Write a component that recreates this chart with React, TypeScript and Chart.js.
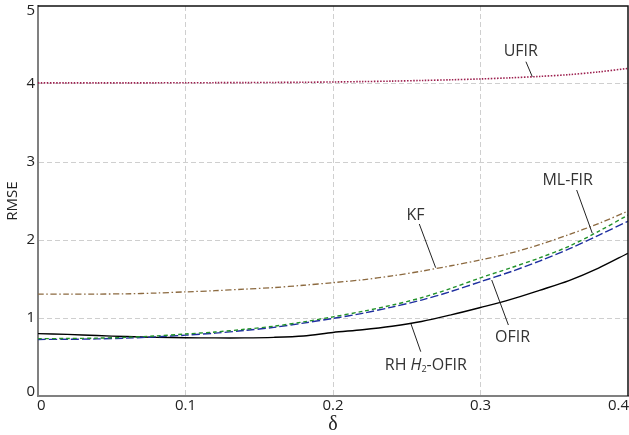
import { useEffect, useRef } from "react";
import { Chart, registerables } from "chart.js";

Chart.register(...registerables);

// ---- data ----
const deltas = [0, 0.02, 0.04, 0.06, 0.08, 0.1, 0.12, 0.14, 0.16, 0.18, 0.2, 0.22, 0.24, 0.26, 0.28, 0.3, 0.32, 0.34, 0.36, 0.38, 0.4];
const ufir = [4.015, 4.015, 4.015, 4.015, 4.015, 4.016, 4.017, 4.018, 4.02, 4.022, 4.026, 4.031, 4.037, 4.045, 4.054, 4.065, 4.079, 4.097, 4.12, 4.155, 4.2];
const kf = [1.305, 1.305, 1.307, 1.31, 1.32, 1.335, 1.35, 1.37, 1.39, 1.42, 1.453, 1.49, 1.54, 1.6, 1.67, 1.745, 1.83, 1.94, 2.07, 2.21, 2.37];
const mlfir = [0.735, 0.737, 0.742, 0.752, 0.77, 0.795, 0.82, 0.855, 0.895, 0.95, 1.015, 1.085, 1.165, 1.26, 1.38, 1.515, 1.64, 1.77, 1.92, 2.11, 2.32];
const ofir = [0.725, 0.727, 0.732, 0.742, 0.758, 0.78, 0.806, 0.84, 0.88, 0.935, 0.995, 1.06, 1.14, 1.23, 1.34, 1.465, 1.59, 1.73, 1.885, 2.06, 2.24];
const rhOfir = [0.8, 0.79, 0.775, 0.762, 0.752, 0.747, 0.745, 0.745, 0.752, 0.77, 0.815, 0.85, 0.895, 0.955, 1.04, 1.135, 1.235, 1.355, 1.48, 1.64, 1.83];

const xTicks = [0, 0.1, 0.2, 0.3, 0.4];
const yTicks = [0, 1, 2, 3, 4, 5];

// annotation labels (text, label centre, leader line start/end) in data units
const annotations = [
  { text: "UFIR", at: [0.3273, 4.421], from: [0.3308, 4.286], to: [0.3351, 4.094] },
  { text: "KF", at: [0.2559, 2.31], from: [0.2585, 2.205], to: [0.2696, 1.645] },
  { text: "ML-FIR", at: [0.3591, 2.769], from: [0.3652, 2.641], to: [0.3758, 2.086] },
  { text: "OFIR", at: [0.3217, 0.754], from: [0.3189, 0.91], to: [0.3076, 1.487] },
  { text: "RH", at: [0.2629, 0.387], from: [0.2595, 0.568], to: [0.2529, 0.923] },
];

const FONT = '"Open Sans", "DejaVu Sans", sans-serif';

function pts(vals: number[]) {
  return vals.map((v, i) => ({ x: deltas[i], y: v }));
}

const overlayPlugin = {
  id: "overlay",
  afterDraw(chart: any) {
    const { ctx, chartArea, scales } = chart;
    const xs = scales.x;
    const ys = scales.y;
    ctx.save();
    // top & right frame
    ctx.strokeStyle = "#111";
    ctx.lineWidth = 1.5;
    ctx.beginPath();
    ctx.moveTo(chartArea.left, chartArea.top);
    ctx.lineTo(chartArea.right, chartArea.top);
    ctx.lineTo(chartArea.right, chartArea.bottom);
    ctx.stroke();

    // tick labels
    ctx.fillStyle = "#222";
    ctx.font = `15px ${FONT}`;
    ctx.textAlign = "right";
    ctx.textBaseline = "middle";
    yTicks.forEach((v) => {
      let py = ys.getPixelForValue(v);
      py = Math.min(Math.max(py, chartArea.top + 5), chartArea.bottom - 4);
      ctx.fillText(String(v), chartArea.left - 3, py);
    });
    ctx.textAlign = "center";
    ctx.textBaseline = "alphabetic";
    xTicks.forEach((v) => {
      const label = v === 0 ? "0" : v.toFixed(1);
      const w = ctx.measureText(label).width;
      let px = xs.getPixelForValue(v);
      px = Math.min(Math.max(px, chartArea.left + w / 2 - 1), chart.width - w / 2);
      ctx.fillText(label, px, chartArea.bottom + 14);
    });

    // annotations
    ctx.strokeStyle = "#222";
    ctx.lineWidth = 1;
    ctx.fillStyle = "#333";
    ctx.textBaseline = "middle";
    annotations.forEach((a) => {
      ctx.beginPath();
      ctx.moveTo(xs.getPixelForValue(a.from[0]), ys.getPixelForValue(a.from[1]));
      ctx.lineTo(xs.getPixelForValue(a.to[0]), ys.getPixelForValue(a.to[1]));
      ctx.stroke();
      const cx = xs.getPixelForValue(a.at[0]);
      const cy = ys.getPixelForValue(a.at[1]);
      if (a.text === "RH") {
        const parts = [
          { t: "RH ", f: `16px ${FONT}`, dy: 0 },
          { t: "H", f: `italic 16px ${FONT}`, dy: 0 },
          { t: "2", f: `9px ${FONT}`, dy: 4 },
          { t: "-OFIR", f: `16px ${FONT}`, dy: 0 },
        ];
        let total = 0;
        parts.forEach((p) => {
          ctx.font = p.f;
          total += ctx.measureText(p.t).width;
        });
        let x0 = cx - total / 2;
        ctx.textAlign = "left";
        parts.forEach((p) => {
          ctx.font = p.f;
          ctx.fillText(p.t, x0, cy + p.dy);
          x0 += ctx.measureText(p.t).width;
        });
      } else {
        ctx.font = `16px ${FONT}`;
        ctx.textAlign = "center";
        ctx.fillText(a.text, cx, cy);
      }
    });
    ctx.restore();
  },
};

export default function App() {
  const ref = useRef<HTMLCanvasElement | null>(null);
  useEffect(() => {
    document.body.style.margin = "0";
    if (!ref.current) return;
    const gridColor = (edgeVals: number[]) => (c: any) =>
      c.tick && edgeVals.some((e) => Math.abs(c.tick.value - e) < 1e-9) ? "rgba(0,0,0,0)" : "#cfcfcf";
    const chart = new Chart(ref.current, {
      type: "line",
      data: {
        datasets: [
          { label: "UFIR", data: pts(ufir), borderColor: "#9c1f4e", borderWidth: 1.6, borderDash: [1.5, 1.5] },
          { label: "KF", data: pts(kf), borderColor: "#8c6a40", borderWidth: 1.3, borderDash: [6, 2.5, 1.5, 2.5] },
          { label: "ML-FIR", data: pts(mlfir), borderColor: "#22922a", borderWidth: 1.4, borderDash: [4, 3] },
          { label: "OFIR", data: pts(ofir), borderColor: "#1f2fa0", borderWidth: 1.4, borderDash: [8, 3] },
          { label: "RH H2-OFIR", data: pts(rhOfir), borderColor: "#000000", borderWidth: 1.4 },
        ] as any,
      },
      options: {
        responsive: false,
        animation: false,
        events: [],
        layout: { padding: { top: 6, right: 1, left: 0, bottom: 0 } },
        elements: { point: { radius: 0 }, line: { tension: 0.3, fill: false } },
        plugins: { legend: { display: false }, tooltip: { enabled: false } },
        scales: {
          x: {
            type: "linear",
            min: 0,
            max: 0.4,
            ticks: { stepSize: 0.1, display: false },
            grid: { color: gridColor([0, 0.4]), lineWidth: 1, drawTicks: false },
            border: { color: "#808080", width: 2, dash: [5, 3] },
            title: { display: true, text: "δ", font: { family: "'Liberation Serif', 'DejaVu Serif', serif", size: 20 }, color: "#222", padding: { top: 0, bottom: -2 } },
            afterFit: (s: any) => {
              s.height = 39;
              s.paddingLeft = 0;
              s.paddingRight = 0;
            },
          },
          y: {
            type: "linear",
            min: 0,
            max: 5,
            ticks: { stepSize: 1, display: false },
            grid: { color: gridColor([0, 5]), lineWidth: 1, drawTicks: false },
            border: { color: "#808080", width: 2, dash: [5, 3] },
            title: { display: true, text: "RMSE", font: { family: FONT, size: 15 }, color: "#222", padding: { top: 4, bottom: 0 } },
            afterFit: (s: any) => {
              s.width = 38;
              s.paddingTop = 0;
              s.paddingBottom = 0;
            },
          },
        },
      } as any,
      plugins: [overlayPlugin],
    });
    return () => chart.destroy();
  }, []);
  return <canvas ref={ref} width={629} height={435} style={{ display: "block" }} />;
}
